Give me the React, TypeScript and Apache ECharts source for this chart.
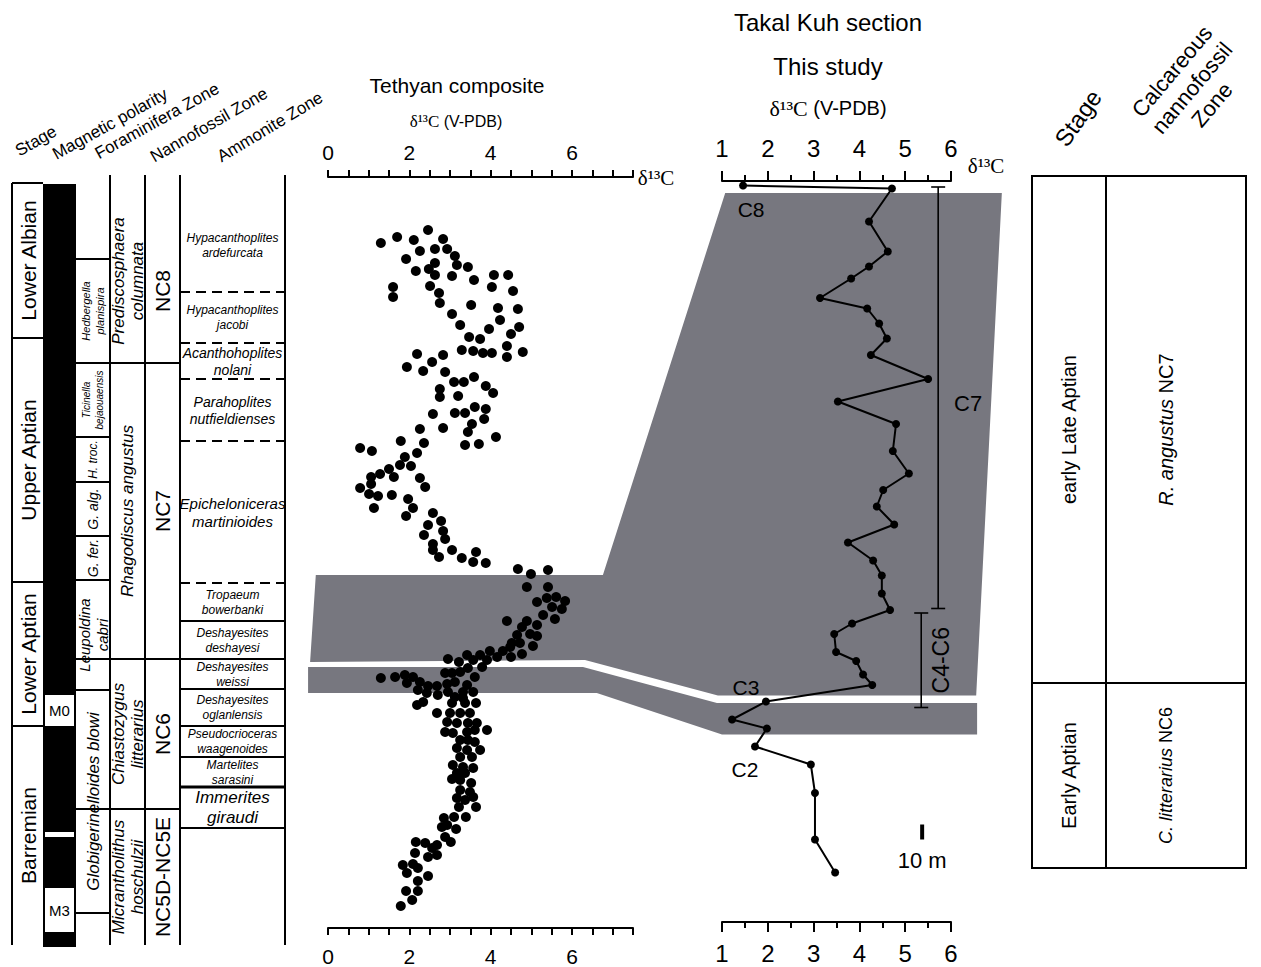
import React, { useEffect, useRef } from "react";
import * as echarts from "echarts";

const FONT = "'Liberation Sans', Arial, Helvetica, sans-serif";
const SERIF = "'Liberation Serif', 'Times New Roman', serif";
const BAND = "#77777f";

// ---------------- DATA ----------------
const tethyanTickLabels = [0, 2, 4, 6];
const takalTickLabels = [1, 2, 3, 4, 5, 6];

// Tethyan composite: [δ13C ‰ V-PDB, relative stratigraphic level]
const tethyanPoints = [
  [1.30,685],[1.70,691],[2.46,698],[2.11,688],[2.83,689],[2.26,677],[2.63,679],[2.93,679],[1.92,669],[2.63,665],
  [3.12,672],[3.17,663],[3.44,661],[2.16,657],[2.48,659],[2.63,653],[3.05,652],[3.59,648],[4.08,653],[4.43,653],
  [1.60,641],[1.60,631],[2.51,642],[2.73,635],[4.03,641],[4.55,637],[2.75,625],[3.52,623],[4.18,620],[4.67,619],
  [3.05,614],[3.25,603],[4.23,608],[4.70,601],[3.96,599],[4.50,594],[3.47,591],[3.74,589],[4.40,582],[3.29,578],
  [3.57,577],[3.81,575],[4.03,575],[4.40,571],[4.79,576],[2.19,574],[2.83,573],[2.56,566],[1.94,561],[2.34,557],
  [2.88,556],[3.10,546],[3.34,546],[3.59,551],[3.88,542],[4.06,535],[2.75,539],[3.20,532],[2.75,531],
  [2.58,514],[3.12,515],[3.37,515],[3.61,521],[3.88,519],[3.84,509],[3.54,504],[3.44,496],[2.83,500],[2.26,499],
  [4.13,491],[3.37,483],[3.71,484],[1.79,487],[2.36,485],[0.79,480],[1.08,477],[2.19,475],[1.89,471],[1.77,463],
  [2.04,462],[1.50,459],[1.28,454],[1.06,451],[1.62,451],[2.26,450],[1.06,444],[2.39,441],[0.79,440],[1.01,434],
  [1.23,432],[1.57,433],[1.13,420],[1.97,429],[2.09,420],[1.92,412],[2.58,415],[2.78,407],[2.46,403],[2.83,397],
  [2.36,393],[2.88,389],[2.58,384],[2.58,378],[3.05,378],[2.73,371],[3.29,370],[3.64,376],[3.57,366],[3.88,365],
  [4.67,359],[4.99,354],[5.41,358],
  [4.89,341],[5.41,341],[5.14,326],[5.38,330],[5.61,331],[5.83,327],[5.51,321],[5.75,319],[5.29,313],[5.58,309],
  [4.40,307],[4.89,307],[4.77,301],[5.14,303],[4.65,293],[4.97,294],[5.14,292],[4.52,285],[4.72,285],[5.04,282],
  [4.30,277],[4.48,281],[4.77,274],[3.98,277],[4.16,271],[4.50,271],[3.74,273],[3.91,268],[3.42,273],[3.57,268],
  [3.22,266],[2.95,269],[3.79,261],[3.44,260],[3.25,256],[3.05,255],[2.88,255],[3.61,251],[1.30,250],[1.65,251],
  [1.89,253],[2.09,251],[1.94,245],[2.26,246],[2.21,238],[2.46,242],[2.68,242],[2.93,244],[3.12,246],[3.42,243],
  [3.32,236],[3.57,236],[2.43,235],[2.70,233],[2.95,236],[3.12,231],[3.32,230],[2.34,226],[2.19,223],[2.68,215],
  [3.05,225],[3.37,225],[3.64,225],[3.00,215],[3.25,215],[3.49,215],[2.93,206],[3.17,205],[3.44,205],[3.66,205],
  [3.91,198],[2.88,196],[3.07,195],[3.42,196],[3.61,198],[3.25,188],[3.44,188],[3.61,186],[3.17,180],[3.42,178],
  [3.74,178],[3.25,171],[3.54,171],
  [3.07,163],[3.32,161],[3.57,160],[3.17,155],[3.37,155],[3.05,149],[3.25,148],[3.52,145],[3.25,138],[3.49,136],
  [3.17,130],[3.37,128],[3.57,131],[3.22,121],[3.64,121],[3.10,111],[3.39,111],[2.85,110],[2.80,101],[3.15,99],
  [2.93,103],[2.88,91],[3.02,86],[2.68,83],[2.39,85],[2.16,86],[2.56,80],[2.14,75],[2.46,71],[2.68,73],
  [1.84,63],[2.09,64],[2.21,60],[1.94,55],[2.46,52],[2.21,47],[1.92,37],[2.21,37],[2.07,28],[1.79,22],
];

// Takal Kuh section (this study): δ13C and height (m)
const takalD13C = [1.46,4.71,4.21,4.62,4.21,3.82,3.14,4.17,4.43,4.60,4.25,5.50,3.53,4.80,4.73,5.08,4.52,4.38,4.76,3.75,
  4.30,4.49,4.49,4.67,3.84,3.45,3.49,3.93,4.08,4.28,1.96,1.22,1.98,1.72,2.94,3.03,3.03,3.47];
const takalHeight = [491,489,467,447,437,429,416,409,399,389,378,362,347,332,314,299,288,277,265,253,
  241,231,219,208,199,192,180,174,165,158,147,135,129,117,105,86,55,33];

// named isotope events on Takal points (index into series)
const takalEvents = [{ name: "C8", index: 0 }, { name: "C3", index: 30 }, { name: "C2", index: 33 }];
// isotope segment ranges (δ13C position of bar, top, base in m)
const takalRanges = [{ name: "C7", x: 5.72, top: 490, base: 209 }, { name: "C4-C6", x: 5.35, top: 206, base: 143 }];
const scaleBar = { x: 5.37, from: 55, to: 65, label: "10 m" };

// Takal stage / nannofossil table (heights in m)
const takalZones = [
  { stage: "early Late Aptian", zone: "R. angustus", nc: "NC7", top: 497.3, base: 159.3 },
  { stage: "Early Aptian", zone: "C. litterarius", nc: "NC6", top: 159.3, base: 36 },
];

// Tethyan stratigraphy (relative levels, same scale as composite)
const stratTop = 753;
const stratBase = -17;
const stages = [
  { name: "Lower Albian", top: 745, base: 590 },
  { name: "Upper Aptian", top: 590, base: 346 },
  { name: "Lower Aptian", top: 346, base: 202 },
  { name: "Barremian", top: 202, base: -17 },
];
const polarityTop = 744;
const normalPolarity = [
  { name: "M0", top: 233, base: 202 },
  { name: "", top: 96, base: 91 },
  { name: "M3", top: 40, base: -4 },
];
const foramZones = [
  { name: "Hedbergella\nplanispira", top: 669, base: 565 },
  { name: "Ticinella\nbejaouaensis", top: 565, base: 491 },
  { name: "H. troc.", top: 491, base: 446 },
  { name: "G. alg.", top: 446, base: 392 },
  { name: "G. fer.", top: 392, base: 348 },
  { name: "Leupoldina\ncabri", top: 348, base: 238 },
  { name: "Globigerinelloides blowi", top: 238, base: 15 },
];
const nannoZones = [
  { name: "Prediscosphaera\ncolumnata", nc: "NC8", top: 753, base: 565 },
  { name: "Rhagodiscus angustus", nc: "NC7", top: 565, base: 269 },
  { name: "Chiastozygus\nlitterarius", nc: "NC6", top: 269, base: 119 },
  { name: "Micrantholithus\nhoschulzii", nc: "NC5D-NC5E", top: 119, base: -17 },
];
const ammoniteZones = [
  { name: "Hypacanthoplites\nardefurcata", top: 753, base: 636, baseCertain: false },
  { name: "Hypacanthoplites\njacobi", top: 636, base: 585, baseCertain: false },
  { name: "Acanthohoplites\nnolani", top: 585, base: 549, baseCertain: false },
  { name: "Parahoplites\nnutfieldienses", top: 549, base: 487, baseCertain: false },
  { name: "Epicheloniceras\nmartinioides", top: 487, base: 345, baseCertain: false },
  { name: "Tropaeum\nbowerbanki", top: 345, base: 307, baseCertain: true },
  { name: "Deshayesites\ndeshayesi", top: 307, base: 269, baseCertain: true },
  { name: "Deshayesites\nweissi", top: 269, base: 239, baseCertain: true },
  { name: "Deshayesites\noglanlensis", top: 239, base: 202, baseCertain: true },
  { name: "Pseudocrioceras\nwaagenoides", top: 202, base: 171, baseCertain: true },
  { name: "Martelites\nsarasini", top: 171, base: 141, baseCertain: true },
  { name: "Immerites\ngiraudi", top: 141, base: 100, baseCertain: true },
];

// correlation bands: vertices in section coordinates ('T' Tethyan, 'K' Takal Kuh)
const bandShapes: [string, number, number][][] = [
  [["T", -0.30, 353], ["T", 6.76, 353], ["K", 1.07, 486], ["K", 7.11, 486], ["K", 6.55, 151], ["K", 0.91, 151], ["T", 6.32, 268], ["T", -0.44, 266]],
  [["T", -0.49, 261], ["T", 6.27, 261], ["K", 0.89, 146], ["K", 6.57, 146], ["K", 6.57, 125], ["K", 1.0, 125], ["T", 6.61, 235], ["T", -0.49, 235]],
];

// ---------------- LAYOUT ----------------
const TE = { left: 328, top: 177, width: 305, height: 751 };
const TK = { left: 722, top: 181, width: 229, height: 741 };
const PX_PER_M = 1.5;
const COL = { stage: [12, 43], mag: [43, 76], foram: [76, 110], nanno: [110, 145], nc: [145, 180], amm: [180, 285] };
const foramFont = [11, 10, 12, 14, 14, 15, 17];
const ammFont = [12, 12, 14, 14, 15, 12, 12, 12, 12, 12, 12, 17];
const zoneFont = [20, 18];

function axisCommon(fontSize: number, margin: number) {
  return {
    axisLine: { show: true, onZero: false, lineStyle: { color: "#000", width: 2 } },
    axisTick: { show: true, length: 8, lineStyle: { color: "#000", width: 2 } },
    axisLabel: { margin, fontSize, color: "#000", fontFamily: FONT },
    splitLine: { show: false },
  };
}

function baseOption(): any {
  const teX = (pos: string, margin: number) => {
    const c: any = axisCommon(21, margin);
    return {
      type: "value", gridIndex: 0, position: pos, min: 0, max: 7.5, interval: 0.5,
      ...c,
      axisTick: { show: true, length: 7, lineStyle: { color: "#000", width: 2 } },
      axisLabel: { ...c.axisLabel, formatter: (v: number) => (tethyanTickLabels.includes(v) ? String(v) : "") },
    };
  };
  const tkX = (pos: string, margin: number) => {
    const c: any = axisCommon(24, margin);
    return {
      type: "value", gridIndex: 1, position: pos, min: 1, max: 6, interval: 1,
      ...c,
      axisTick: { show: true, length: 10, lineStyle: { color: "#000", width: 2 } },
      minorTick: { show: true, splitNumber: 2, length: 6, lineStyle: { color: "#000", width: 2 } },
      axisLabel: { ...c.axisLabel, formatter: (v: number) => (takalTickLabels.includes(v) ? String(v) : "") },
    };
  };
  return {
    animation: false,
    backgroundColor: "#fff",
    grid: [
      { left: TE.left, top: TE.top, width: TE.width, height: TE.height },
      { left: TK.left, top: TK.top, width: TK.width, height: TK.height },
    ],
    xAxis: [teX("top", 14), teX("bottom", 18), tkX("top", 21), tkX("bottom", 19)],
    yAxis: [
      { type: "value", gridIndex: 0, min: 0, max: TE.height, show: false },
      { type: "value", gridIndex: 1, min: 0, max: TK.height / PX_PER_M, show: false },
    ],
    series: [
      {
        type: "scatter", xAxisIndex: 0, yAxisIndex: 0, data: tethyanPoints,
        symbol: "circle", symbolSize: 10, itemStyle: { color: "#000", opacity: 1 }, z: 6, silent: true,
      },
      {
        type: "line", xAxisIndex: 2, yAxisIndex: 1,
        data: takalD13C.map((v, i) => [v, takalHeight[i]]),
        symbol: "circle", symbolSize: 8, showSymbol: true,
        lineStyle: { color: "#000", width: 2 }, itemStyle: { color: "#000" }, z: 6, silent: true,
      },
      {
        type: "custom", xAxisIndex: 2, yAxisIndex: 1, z: 5, silent: true,
        data: takalRanges.map((r) => [r.x, r.top, r.base]),
        encode: { x: 0, y: [1, 2] },
        renderItem: (_p: any, api: any) => {
          const a = api.coord([api.value(0), api.value(1)]);
          const b = api.coord([api.value(0), api.value(2)]);
          const c = 7;
          const st = { stroke: "#000", lineWidth: 1.6 };
          return {
            type: "group",
            children: [
              { type: "line", shape: { x1: a[0], y1: a[1], x2: b[0], y2: b[1] }, style: st },
              { type: "line", shape: { x1: a[0] - c, y1: a[1], x2: a[0] + c, y2: a[1] }, style: st },
              { type: "line", shape: { x1: b[0] - c, y1: b[1], x2: b[0] + c, y2: b[1] }, style: st },
            ],
          };
        },
      },
      {
        type: "line", xAxisIndex: 2, yAxisIndex: 1, z: 5, silent: true, symbol: "none",
        data: [[scaleBar.x, scaleBar.from], [scaleBar.x, scaleBar.to]],
        lineStyle: { color: "#000", width: 4 },
      },
    ],
  };
}

function buildGraphic(chart: any): any[] {
  const T = (x: number, y: number) => chart.convertToPixel({ xAxisIndex: 0, yAxisIndex: 0 }, [x, y]) as number[];
  const K = (x: number, y: number) => chart.convertToPixel({ xAxisIndex: 2, yAxisIndex: 1 }, [x, y]) as number[];
  const ly = (L: number) => T(0, L)[1];
  const ky = (h: number) => K(1, h)[1];
  const els: any[] = [];
  const ln = (x1: number, y1: number, x2: number, y2: number, w = 1.5, dash?: number[]) =>
    els.push({ type: "line", silent: true, z: 3, shape: { x1, y1, x2, y2 }, style: { stroke: "#000", lineWidth: w, lineDash: dash || null } });
  const tx = (x: number, y: number, text: string, size: number, o: any = {}) =>
    els.push({
      type: "text", silent: true, z: 10, x, y, rotation: ((o.rot || 0) * Math.PI) / 180,
      style: {
        text, fontSize: size, fontFamily: o.family || FONT, fontStyle: o.italic ? "italic" : "normal",
        fill: "#000", align: "center", verticalAlign: "middle", textAlign: "center", textVerticalAlign: "middle",
        lineHeight: o.lh || Math.round(size * 1.15), rich: o.rich,
      },
    });

  // correlation bands
  bandShapes.forEach((shape) =>
    els.push({
      type: "polygon", silent: true, z: 1,
      shape: { points: shape.map(([s, x, y]) => (s === "T" ? T(x, y) : K(x, y))) },
      style: { fill: BAND },
    })
  );

  // --- left stratigraphic columns ---
  const [s0, s1] = COL.stage;
  ln(s0, ly(stages[0].top), s0, ly(stratBase), 2);
  stages.forEach((s) => {
    ln(s0, ly(s.top), s1, ly(s.top), 2);
    tx((s0 + s1) / 2 + 1, (ly(s.top) + ly(s.base)) / 2, s.name, 21, { rot: 90 });
  });

  const [m0, m1] = COL.mag;
  els.push({ type: "rect", silent: true, z: 2, shape: { x: m0, y: ly(polarityTop), width: m1 - m0, height: ly(stratBase - 2) - ly(polarityTop) }, style: { fill: "#000" } });
  normalPolarity.forEach((p) => {
    els.push({ type: "rect", silent: true, z: 3, shape: { x: m0 + 2, y: ly(p.top), width: m1 - m0 - 4, height: ly(p.base) - ly(p.top) }, style: { fill: "#fff" } });
    if (p.name) tx((m0 + m1) / 2, (ly(p.top) + ly(p.base)) / 2, p.name, 15);
  });

  const [f0, f1] = COL.foram;
  foramZones.forEach((z, i) => {
    ln(f0, ly(z.top), f1, ly(z.top), 2);
    if (i === foramZones.length - 1) ln(f0, ly(z.base), f1, ly(z.base), 2);
    tx((f0 + f1) / 2, (ly(z.top) + ly(z.base)) / 2, z.name, foramFont[i], { rot: 90, italic: true, lh: foramFont[i] + 3 });
  });

  [COL.nanno[0], COL.nc[0], COL.amm[0], COL.amm[1]].forEach((x) => ln(x, ly(stratTop), x, ly(stratBase), 2));

  nannoZones.forEach((z, i) => {
    if (i > 0) ln(COL.foram[0], ly(z.top), COL.nc[1], ly(z.top), 2);
    const my = (ly(z.top) + ly(z.base)) / 2 + (i === 0 ? 12 : 0);
    tx((COL.nanno[0] + COL.nanno[1]) / 2, my, z.name, 17, { rot: 90, italic: true, lh: 19 });
    tx((COL.nc[0] + COL.nc[1]) / 2, my + (i === 0 ? 10 : 0), z.nc, 21, { rot: 90 });
  });

  const [a0, a1] = COL.amm;
  ammoniteZones.forEach((z, i) => {
    const yb = ly(z.base);
    if (z.baseCertain) ln(a0, yb, a1, yb, z.base === 141 ? 3 : 2);
    else ln(a0, yb, a1, yb, 2, [10, 6]);
    tx((a0 + a1) / 2, (ly(z.top) + yb) / 2 + (i === 0 ? 12 : 0), z.name, ammFont[i], { italic: true, lh: ammFont[i] + 3 });
  });

  // left headers
  tx(36, 141, "Stage", 17, { rot: 30 });
  tx(110, 124, "Magnetic polarity", 17, { rot: 29 });
  tx(157, 121, "Foraminifera Zone", 17, { rot: 29 });
  tx(209, 125, "Nannofossil Zone", 17, { rot: 30 });
  tx(270, 127, "Ammonite Zone", 17, { rot: 31 });

  // Tethyan titles
  tx(457, 85, "Tethyan composite", 21);
  tx(456, 121, "{d|δ¹³C} {v|(V-PDB)}", 16, {
    rich: { d: { fontFamily: SERIF, fontSize: 17 }, v: { fontFamily: FONT, fontSize: 16 } },
  });
  tx(656, 178, "δ¹³C", 21, { family: SERIF });

  // Takal titles
  tx(828, 22, "Takal Kuh section", 24);
  tx(828, 66, "This study", 24);
  tx(828, 108, "{d|δ¹³C} {v|(V-PDB)}", 20, {
    rich: { d: { fontFamily: SERIF, fontSize: 22 }, v: { fontFamily: FONT, fontSize: 20 } },
  });
  tx(986, 166, "δ¹³C", 21, { family: SERIF });

  // event labels
  const evOff: Record<string, number[]> = { C8: [8, 24], C3: [-20, -14], C2: [-10, 23] };
  takalEvents.forEach((e) => {
    const p = K(takalD13C[e.index], takalHeight[e.index]);
    const o = evOff[e.name];
    tx(p[0] + o[0], p[1] + o[1], e.name, 21);
  });
  takalRanges.forEach((r, i) => {
    const top = K(r.x, r.top);
    const bot = K(r.x, r.base);
    if (i === 0) tx(top[0] + 30, (top[1] + bot[1]) / 2 + 6, r.name, 22);
    else tx(top[0] + 20, (top[1] + bot[1]) / 2, r.name, 23, { rot: 90 });
  });
  const sb = K(scaleBar.x, scaleBar.from);
  tx(sb[0], sb[1] + 21, scaleBar.label, 22);

  // right table
  const rx0 = 1032, rx1 = 1106, rx2 = 1246;
  const yt = ky(takalZones[0].top), yb = ky(takalZones[takalZones.length - 1].base);
  els.push({ type: "rect", silent: true, z: 3, shape: { x: rx0, y: yt, width: rx2 - rx0, height: yb - yt }, style: { fill: "none", stroke: "#000", lineWidth: 2 } });
  ln(rx1, yt, rx1, yb, 2);
  takalZones.forEach((z, i) => {
    if (i > 0) ln(rx0, ky(z.top), rx2, ky(z.top), 2);
    const my = (ky(z.top) + ky(z.base)) / 2;
    tx((rx0 + rx1) / 2, my, z.stage, 20, { rot: 90 });
    const fs = zoneFont[i];
    tx((rx1 + rx2) / 2 - 10, my, `{i|${z.zone}} {n|${z.nc}}`, fs, {
      rot: 90,
      rich: { i: { fontStyle: "italic", fontFamily: FONT, fontSize: fs }, n: { fontFamily: FONT, fontSize: fs } },
    });
  });
  tx(1078, 118, "Stage", 24, { rot: 55 });
  tx(1192, 88, "Calcareous\nnannofossil\nZone", 22, { rot: 50, lh: 26 });

  return els;
}

export default function App() {
  const ref = useRef<HTMLDivElement>(null);
  useEffect(() => {
    const chart = echarts.init(ref.current!, null, { renderer: "svg" });
    chart.setOption(baseOption());
    chart.setOption({ graphic: { elements: buildGraphic(chart) } });
    return () => chart.dispose();
  }, []);
  return (
    <div
      ref={ref}
      style={{ position: "fixed", left: 0, top: 0, width: 1261, height: 967, background: "#fff" }}
    />
  );
}
